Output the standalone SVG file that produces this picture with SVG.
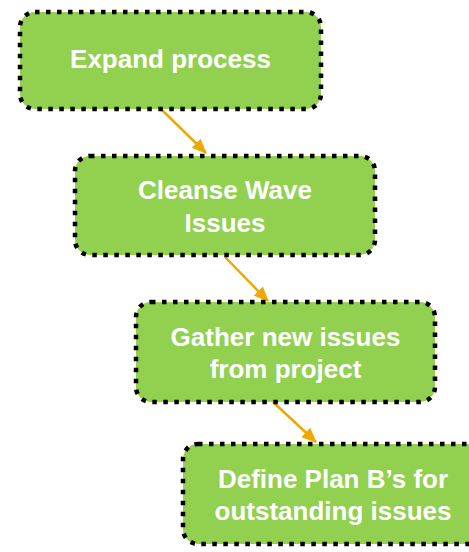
<svg xmlns="http://www.w3.org/2000/svg" width="469" height="552" viewBox="0 0 469 552">
<defs>
<style>
.box{fill:#92D050;stroke:#000;stroke-width:4.5;stroke-dasharray:4.5 6.5;}
.lbl{font-family:"Liberation Sans",Arial,sans-serif;font-weight:bold;font-size:26px;fill:#fff;text-anchor:middle;}
.conn{stroke:#F0A800;stroke-width:2.5;fill:none;marker-end:url(#ah);}
</style>
<marker id="ah" viewBox="0 0 15 13" refX="14" refY="6.5" markerWidth="15" markerHeight="13" orient="auto" markerUnits="userSpaceOnUse">
<path d="M0,0 L15,6.5 L0,13 z" fill="#F0A800"/>
</marker>
</defs>
<g id="connectors">
<line class="conn" x1="162" y1="110" x2="206" y2="153"/>
<line class="conn" x1="225" y1="257" x2="268" y2="301"/>
<line class="conn" x1="273" y1="402" x2="316" y2="442"/>
</g>
<g id="n1">
<rect class="box" x="20" y="12" width="301" height="97" rx="15"/>
<text class="lbl" x="170.5" y="68">Expand process</text>
</g>
<g id="n2">
<rect class="box" x="75" y="156" width="300" height="99" rx="15"/>
<text class="lbl" x="225" y="199">Cleanse Wave</text>
<text class="lbl" x="225" y="232">Issues</text>
</g>
<g id="n3">
<rect class="box" x="136" y="302" width="299" height="100" rx="15"/>
<text class="lbl" x="285.5" y="346">Gather new issues</text>
<text class="lbl" x="285.5" y="378">from project</text>
</g>
<g id="n4">
<rect class="box" x="183" y="444" width="300" height="100" rx="15"/>
<text class="lbl" x="333" y="488">Define Plan B’s for</text>
<text class="lbl" x="333" y="520">outstanding issues</text>
</g>
</svg>
